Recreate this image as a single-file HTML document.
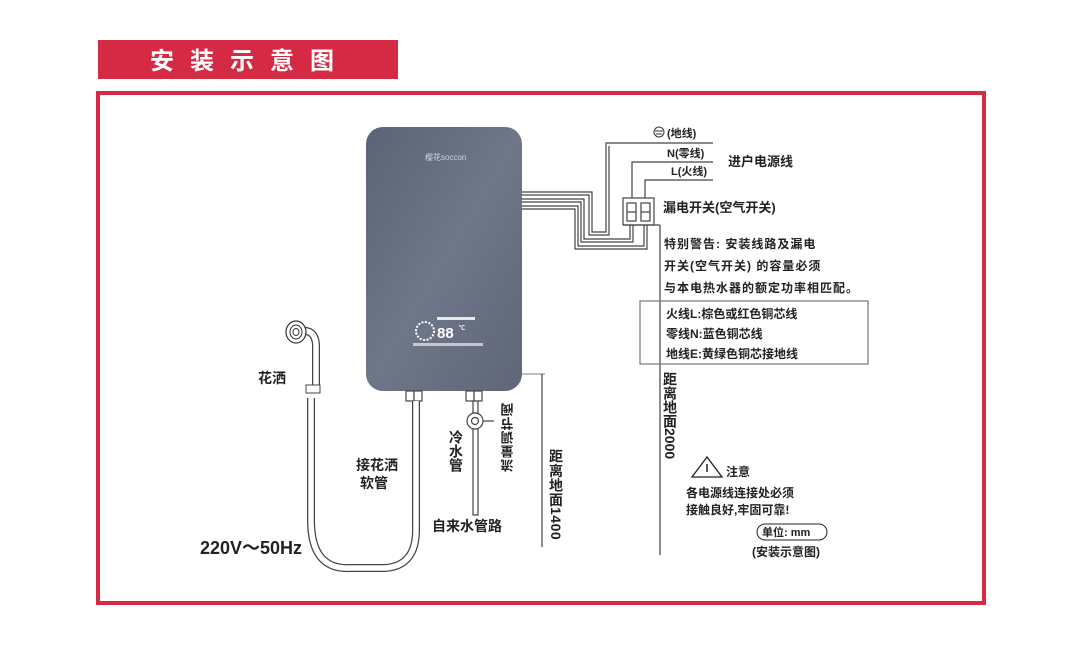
<!DOCTYPE html>
<html><head><meta charset="utf-8"><style>
body{margin:0;background:#fff;width:1080px;height:651px;overflow:hidden;font-family:"Liberation Sans","Noto Sans CJK SC",sans-serif}
svg text{font-family:"Liberation Sans","Noto Sans CJK SC",sans-serif;font-weight:bold;fill:#222}
</style></head><body>
<svg width="1080" height="651" viewBox="0 0 1080 651" xmlns="http://www.w3.org/2000/svg">
<defs>
<linearGradient id="g" x1="0" y1="0" x2="1" y2="1"><stop offset="0" stop-color="#5b6376"/><stop offset="0.5" stop-color="#6e7689"/><stop offset="1" stop-color="#5f6678"/></linearGradient>
</defs>
<rect x="98" y="40" width="300" height="39" fill="#d42a44"/>
<text x="250" y="69" text-anchor="middle" font-size="24" style="fill:#fff" letter-spacing="16">安装示意图</text>
<rect x="98" y="93" width="886" height="510" fill="none" stroke="#d42a44" stroke-width="4"/>

<!-- heater -->
<rect x="366" y="127" width="156" height="264" rx="17" fill="url(#g)"/>
<text x="425" y="160" font-size="8" style="fill:#cfd3dc;font-weight:normal">樱花soccon</text>
<circle cx="425" cy="331" r="9" fill="none" stroke="#fff" stroke-width="2" stroke-dasharray="2 1.5"/>
<text x="437" y="338" font-size="15" style="fill:#fff">88</text>
<text x="459" y="330" font-size="6" style="fill:#fff">℃</text>
<rect x="437" y="317" width="38" height="3" fill="#e8e8e8"/>
<rect x="413" y="343" width="70" height="3" fill="#ddd" opacity="0.8"/>

<!-- wires -->
<g fill="none" stroke="#444" stroke-width="1.2">
<polyline points="522,192 592,192 592,232 606,232 606,143 713,143"/>
<polyline points="522,195 589,195 589,235 609,235 609,146"/>
<polyline points="522,199 584,199 584,239 630,239 630,225"/>
<polyline points="522,202 581,202 581,242 633,242 633,225"/>
<polyline points="522,206 578,206 578,246 644,246 644,225"/>
<polyline points="522,209 575,209 575,249 647,249 647,225"/>
<polyline points="632,198 632,162 713,162"/>
<polyline points="645,198 645,180 713,180"/>
<rect x="623" y="198" width="31" height="27"/>
<rect x="627" y="203" width="9" height="18"/><rect x="641" y="203" width="9" height="18"/>
<line x1="627" y1="212" x2="636" y2="212"/><line x1="641" y1="212" x2="650" y2="212"/>
<line x1="623" y1="225" x2="660" y2="225"/>
<line x1="660" y1="225" x2="660" y2="555"/>
<rect x="640" y="301" width="228" height="63" stroke="#777"/>
<line x1="522" y1="374" x2="545" y2="374" stroke="#999"/>
<line x1="542" y1="374" x2="542" y2="547"/>
</g>
<circle cx="659" cy="132" r="5" fill="none" stroke="#333"/>
<line x1="655" y1="131" x2="663" y2="131" stroke="#333"/><line x1="656" y1="134" x2="662" y2="134" stroke="#333"/>
<text x="667" y="137" font-size="11">(地线)</text>
<text x="667" y="157" font-size="11">N(零线)</text>
<text x="671" y="175" font-size="11">L(火线)</text>
<text x="728" y="166" font-size="13">进户电源线</text>
<text x="663" y="212" font-size="13">漏电开关(空气开关)</text>
<text x="664" y="248" font-size="12" letter-spacing="1">特别警告: 安装线路及漏电</text>
<text x="664" y="270" font-size="12" letter-spacing="1">开关(空气开关) 的容量必须</text>
<text x="664" y="292" font-size="12" letter-spacing="1">与本电热水器的额定功率相匹配。</text>
<text x="666" y="318" font-size="12">火线L:棕色或红色铜芯线</text>
<text x="666" y="338" font-size="12">零线N:蓝色铜芯线</text>
<text x="666" y="358" font-size="12">地线E:黄绿色铜芯接地线</text>
<text x="670" y="372" font-size="14" style="writing-mode:vertical-rl">距离地面2000</text>
<polygon points="707,457 692,477 722,477" fill="none" stroke="#222" stroke-width="1.3"/>
<line x1="707" y1="464" x2="707" y2="472" stroke="#222" stroke-width="1.5"/>
<text x="726" y="476" font-size="12">注意</text>
<text x="686" y="497" font-size="12">各电源线连接处必须</text>
<text x="686" y="514" font-size="12">接触良好,牢固可靠!</text>
<rect x="757" y="524" width="70" height="16" rx="8" fill="none" stroke="#222"/>
<text x="762" y="536" font-size="11">单位: mm</text>
<text x="752" y="556" font-size="12">(安装示意图)</text>

<!-- bottom pipes -->
<g fill="#fff" stroke="#444" stroke-width="1.2">
<rect x="406" y="391" width="8" height="10"/><rect x="414" y="391" width="8" height="10"/>
<rect x="466" y="391" width="8" height="10"/><rect x="474" y="391" width="8" height="10"/>
<rect x="473" y="401" width="5" height="114"/>
<circle cx="475" cy="421" r="8"/><circle cx="475" cy="421" r="3.5"/>
<line x1="483" y1="421" x2="494" y2="421"/>
</g>
<!-- hose -->
<path d="M311,398 L311,520 Q311,570 350,568 L385,568 Q416,566 416,530 L416,401" fill="none" stroke="#444" stroke-width="8"/>
<path d="M311,398 L311,520 Q311,570 350,568 L385,568 Q416,566 416,530 L416,401" fill="none" stroke="#fff" stroke-width="5.5"/>
<path d="M292,333 Q315,325 316,345 L316,385" fill="none" stroke="#444" stroke-width="8"/>
<path d="M292,333 Q315,325 316,345 L316,385" fill="none" stroke="#fff" stroke-width="5.5"/>
<rect x="306" y="385" width="14" height="8" fill="#fff" stroke="#444"/>
<ellipse cx="296" cy="332" rx="10" ry="11" fill="#fff" stroke="#333" stroke-width="1.2"/>
<ellipse cx="296" cy="332" rx="6" ry="7" fill="none" stroke="#333"/>
<ellipse cx="296" cy="332" rx="3" ry="3.5" fill="none" stroke="#333"/>

<text x="258" y="383" font-size="14">花洒</text>
<text x="356" y="470" font-size="14">接花洒</text>
<text x="360" y="488" font-size="14">软管</text>
<text x="456" y="430" font-size="14" style="writing-mode:vertical-rl">冷水管</text>
<text x="432" y="531" font-size="14">自来水管路</text>
<text x="200" y="554" font-size="18">220V～50Hz</text>
<text x="508" y="400" font-size="13" letter-spacing="1" style="writing-mode:vertical-rl" transform="rotate(180 508 436)">流量调节阀</text>
<text x="556" y="449" font-size="14" letter-spacing="0.5" style="writing-mode:vertical-rl">距离地面1400</text>
</svg>
</body></html>
